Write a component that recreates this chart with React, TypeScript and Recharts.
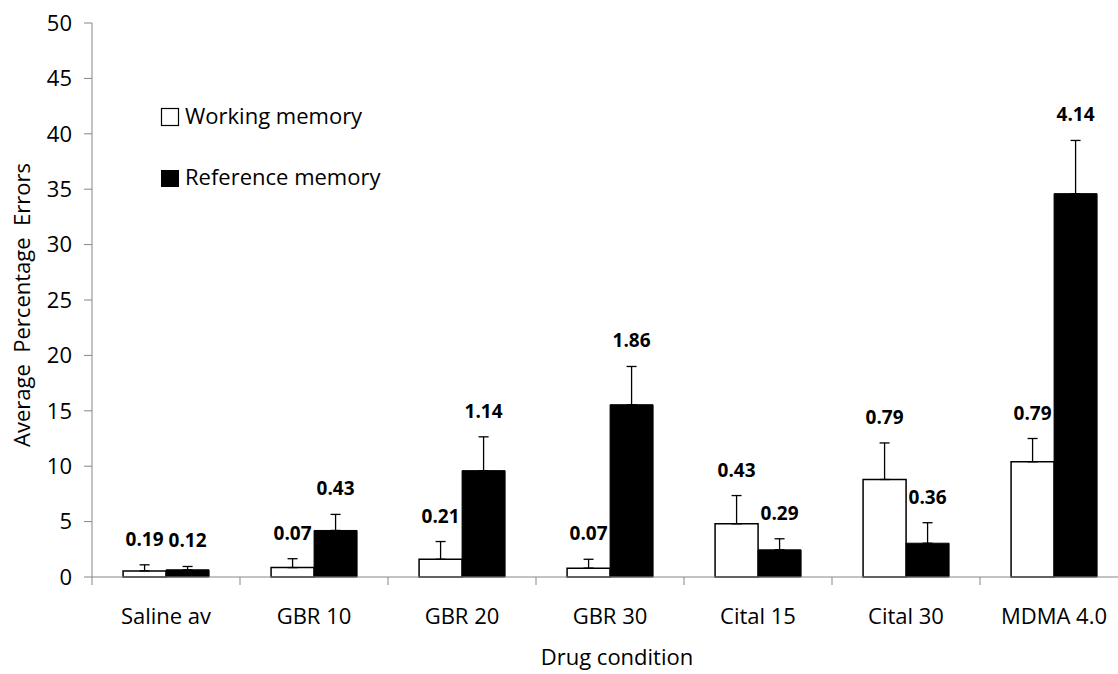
import { BarChart, Bar, XAxis, YAxis, Legend, ErrorBar, LabelList, Label } from 'recharts'

const categories = ['Saline av', 'GBR 10', 'GBR 20', 'GBR 30', 'Cital 15', 'Cital 30', 'MDMA 4.0']

const workingMean = [0.55, 0.85, 1.6, 0.8, 4.8, 8.8, 10.4]
const workingErr = [0.55, 0.8, 1.6, 0.8, 2.55, 3.3, 2.1]
const workingLabels = ['0.19', '0.07', '0.21', '0.07', '0.43', '0.79', '0.79']

const referenceMean = [0.65, 4.2, 9.6, 15.55, 2.45, 3.05, 34.6]
const referenceErr = [0.3, 1.45, 3.05, 3.45, 1.0, 1.85, 4.8]
const referenceLabels = ['0.12', '0.43', '1.14', '1.86', '0.29', '0.36', '4.14']

const yTicks = [0, 5, 10, 15, 20, 25, 30, 35, 40, 45, 50]

const FONT = '"Open Sans", sans-serif'
const AXIS_GREY = '#868686'

const CHART_W = 1140
const CHART_H = 674
const MARGIN = { top: 23, right: 12, bottom: 0, left: 0 }
const Y_AXIS_W = 92
const X_AXIS_H = 97
const BAND = (CHART_W - MARGIN.left - MARGIN.right - Y_AXIS_W) / categories.length

const rows = categories.map((name, i) => ({
  name,
  working: workingMean[i],
  workingRange: [0, workingErr[i]],
  workingLabel: workingLabels[i],
  reference: referenceMean[i],
  referenceRange: [0, referenceErr[i]],
  referenceLabel: referenceLabels[i],
}))

// category name centred under the group, tick mark on the left group boundary
function CategoryTick(props: any) {
  const { x, y, payload } = props
  const edge = x - BAND / 2
  return (
    <g>
      <line x1={edge} x2={edge} y1={y} y2={y + 8} stroke={AXIS_GREY} strokeWidth={1} />
      <text x={x} y={y + 47} textAnchor="middle" fontFamily={FONT} fontSize={22} fill="#000">
        {payload.value}
      </text>
    </g>
  )
}

// bold count printed above the top of each error bar
function errorLabel(means: number[], errs: number[]) {
  return (props: any) => {
    const box = props.viewBox ?? props
    const { x, y, width, height } = box
    const i = props.index
    const perUnit = height / means[i]
    const errTop = y - errs[i] * perUnit
    return (
      <text
        x={x + width / 2}
        y={errTop - 19}
        textAnchor="middle"
        fontFamily={FONT}
        fontSize={19}
        fontWeight={700}
        fill="#000"
      >
        {props.value}
      </text>
    )
  }
}

function LegendBox() {
  return (
    <svg width={260} height={100}>
      <rect x={11.5} y={13.5} width={17} height={17} fill="#fff" stroke="#000" strokeWidth={1.2} />
      <text x={35} y={29} fontFamily={FONT} fontSize={22} fill="#000">
        Working memory
      </text>
      <rect x={11} y={75} width={18} height={17} fill="#000" />
      <text x={35} y={90} fontFamily={FONT} fontSize={22} fill="#000">
        Reference memory
      </text>
    </svg>
  )
}

export default function App() {
  return (
    <div style={{ position: 'absolute', left: 0, top: 0, width: 1118, height: 674, overflow: 'hidden', background: '#fff' }}>
      <BarChart
        width={CHART_W}
        height={CHART_H}
        data={rows}
        margin={MARGIN}
        barCategoryGap="21%"
        barGap={0}
      >
        <XAxis
          dataKey="name"
          height={X_AXIS_H}
          axisLine={{ stroke: AXIS_GREY, strokeWidth: 1 }}
          tickLine={false}
          tickSize={0}
          tickMargin={0}
          interval={0}
          tick={<CategoryTick />}
        >
          <Label
            content={(p: any) => {
              const vb = p.viewBox
              return (
                <text
                  x={vb.x + vb.width / 2 + 7}
                  y={vb.y + vb.height - 9}
                  textAnchor="middle"
                  fontFamily={FONT}
                  fontSize={22}
                  fill="#000"
                >
                  Drug condition
                </text>
              )
            }}
          />
        </XAxis>
        <YAxis
          width={Y_AXIS_W}
          domain={[0, 50]}
          ticks={yTicks}
          interval={0}
          axisLine={{ stroke: AXIS_GREY, strokeWidth: 1 }}
          tickLine={{ stroke: AXIS_GREY, strokeWidth: 1 }}
          tickSize={8}
          tickMargin={12}
          tick={{ fontFamily: FONT, fontSize: 22, fill: '#000' }}
        >
          <Label
            content={() => (
              <text
                transform="translate(30, 305) rotate(-90)"
                textAnchor="middle"
                fontFamily={FONT}
                fontSize={22}
                fill="#000"
                xmlSpace="preserve"
                style={{ whiteSpace: 'pre' }}
              >
                {'Average  Percentage  Errors'}
              </text>
            )}
          />
        </YAxis>
        <Legend
          layout="vertical"
          align="center"
          verticalAlign="middle"
          content={<LegendBox />}
          wrapperStyle={{ top: 95, left: 150, width: 260, height: 100 }}
        />
        <Bar
          dataKey="working"
          name="Working memory"
          fill="#fff"
          stroke="#000"
          strokeWidth={1.5}
          isAnimationActive={false}
        >
          <ErrorBar dataKey="workingRange" direction="y" width={5} stroke="#000" strokeWidth={1.3} />
          <LabelList dataKey="workingLabel" content={errorLabel(workingMean, workingErr)} />
        </Bar>
        <Bar
          dataKey="reference"
          name="Reference memory"
          fill="#000"
          stroke="#000"
          strokeWidth={1}
          isAnimationActive={false}
        >
          <ErrorBar dataKey="referenceRange" direction="y" width={5} stroke="#000" strokeWidth={1.3} />
          <LabelList dataKey="referenceLabel" content={errorLabel(referenceMean, referenceErr)} />
        </Bar>
      </BarChart>
    </div>
  )
}
